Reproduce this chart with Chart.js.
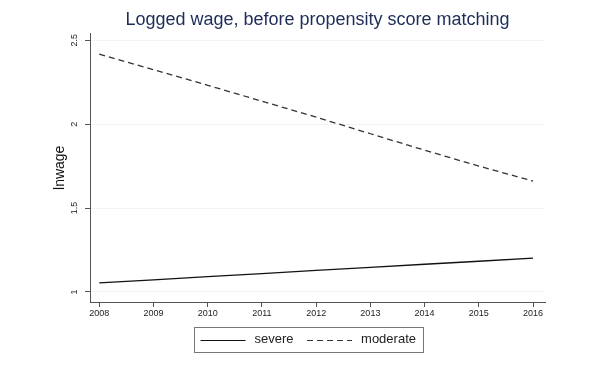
<!DOCTYPE html>
<html>
<head>
<meta charset="utf-8">
<script src="https://cdn.jsdelivr.net/npm/chart.js@4.4.0/dist/chart.umd.min.js"></script>
<style>
    html, body { margin: 0; padding: 0; background: #fff; }
    #wrap { width: 600px; height: 367px; }
</style>
</head>
<body>
<div id="wrap"><canvas id="chart_1"></canvas></div>
<script>
// data
const years = [2008, 2009, 2010, 2011, 2012, 2013, 2014, 2015, 2016];
const severe = [1.054, 1.072, 1.091, 1.109, 1.128, 1.146, 1.165, 1.183, 1.202];
const moderate = [2.417, 2.325, 2.232, 2.137, 2.042, 1.943, 1.845, 1.750, 1.661];
const y_ticks = [1, 1.5, 2, 2.5];
const y_tick_labels = ['1', '1.5', '2', '2.5'];

window.onload = () => {
    const FONT = 'Liberation Sans, Arial, sans-serif';
    const BOX_W = 54;      // room given to each legend sample
    const SAMPLE_W = 45;   // length of drawn sample line
    const to_points = vals => years.map((yr, i) => ({x: yr, y: vals[i]}));

    // stata style: y tick labels turned sideways
    const rotated_y_labels = {
        id: 'rotated_y_labels',
        afterDraw: chart => {
            const ctx = chart.ctx, sc = chart.scales.y;
            ctx.save();
            ctx.fillStyle = '#222';
            ctx.font = '9px ' + FONT;
            ctx.textAlign = 'center';
            ctx.textBaseline = 'middle';
            y_ticks.forEach((v, i) => {
                const py = sc.getPixelForValue(v);
                ctx.save();
                ctx.translate(sc.right - 15, py);
                ctx.rotate(-Math.PI / 2);
                ctx.fillText(y_tick_labels[i], 0, 0);
                ctx.restore();
            });
            ctx.restore();
        }
    };

    // frame round the legend + line samples (solid / dashed)
    const legend_frame = {
        id: 'legend_frame',
        afterDraw: chart => {
            const lg = chart.legend;
            if (!lg || !lg.legendHitBoxes.length) return;
            const boxes = lg.legendHitBoxes;
            const ctx = chart.ctx;
            const off = BOX_W - SAMPLE_W - 2.5;
            ctx.save();
            let mid = 0;
            boxes.forEach((b, i) => {
                const ds = chart.data.datasets[i];
                mid = b.top + b.height / 2;
                const yy = Math.round(mid) + 0.5;
                ctx.strokeStyle = ds.borderColor;
                ctx.lineWidth = 1;
                ctx.setLineDash(ds.borderDash || []);
                ctx.beginPath();
                ctx.moveTo(b.left + off, yy);
                ctx.lineTo(b.left + off + SAMPLE_W, yy);
                ctx.stroke();
            });
            ctx.setLineDash([]);
            const left = boxes[0].left + off - 7;
            const last = boxes[boxes.length - 1];
            const right = last.left + last.width + 7;
            ctx.strokeStyle = '#777';
            ctx.lineWidth = 1;
            ctx.strokeRect(Math.round(left) + 0.5, Math.round(mid - 12.5) + 0.5, Math.round(right - left), 25);
            ctx.restore();
        }
    };

    const ctx = document.getElementById('chart_1').getContext('2d');
    const chart = new Chart(ctx, {
        type: 'line',
        data: {
            datasets: [
                {
                    label: 'severe',
                    data: to_points(severe),
                    borderColor: '#111',
                    backgroundColor: '#111',
                    borderWidth: 1.3,
                    pointRadius: 0,
                    tension: 0
                },
                {
                    label: 'moderate',
                    data: to_points(moderate),
                    borderColor: '#333',
                    backgroundColor: '#333',
                    borderWidth: 1.3,
                    borderDash: [6, 4],
                    pointRadius: 0,
                    tension: 0
                }
            ]
        },
        options: {
            responsive: true,
            maintainAspectRatio: false,
            animation: false,
            // left padding is wide so the legend sits right of centre, as in the original
            layout: { padding: { left: 65, right: 55, top: 0, bottom: 11 } },
            plugins: {
                title: {
                    display: true,
                    text: 'Logged wage, before propensity score matching',
                    color: '#1e2c5a',
                    fullSize: false,
                    font: { family: FONT, size: 18, weight: 'normal' },
                    padding: { top: 9, bottom: 3 }
                },
                legend: {
                    position: 'bottom',
                    labels: {
                        usePointStyle: true,
                        pointStyle: 'line',
                        pointStyleWidth: BOX_W,
                        color: '#222',
                        font: { family: FONT, size: 13 },
                        padding: 7,
                        generateLabels: c => Chart.defaults.plugins.legend.labels.generateLabels(c)
                            .map(it => ({...it, strokeStyle: 'rgba(0,0,0,0)', fillStyle: 'rgba(0,0,0,0)'}))
                    }
                },
                tooltip: { enabled: false }
            },
            scales: {
                x: {
                    type: 'linear',
                    min: 2007.83,
                    max: 2016.22,
                    afterBuildTicks: sc => { sc.ticks = years.map(v => ({value: v})); },
                    afterFit: sc => { sc.height = 24; },
                    grid: { drawOnChartArea: false, tickLength: 5, tickColor: '#555' },
                    border: { color: '#555', width: 1 },
                    ticks: {
                        color: '#222',
                        font: { family: FONT, size: 9 },
                        padding: 1,
                        maxRotation: 0,
                        callback: v => String(v)
                    }
                },
                y: {
                    type: 'linear',
                    min: 0.94,
                    max: 2.54,
                    afterBuildTicks: sc => { sc.ticks = y_ticks.map(v => ({value: v})); },
                    afterFit: sc => { sc.width = 25; },
                    grid: { color: '#f3f3f3', tickLength: 5, tickColor: '#555' },
                    border: { color: '#555', width: 1 },
                    ticks: { display: false },
                    title: {
                        display: true,
                        text: 'lnwage',
                        color: '#111',
                        font: { family: FONT, size: 14 },
                        padding: { top: -13.4, bottom: 0 }
                    }
                }
            }
        },
        plugins: [rotated_y_labels, legend_frame]
    });
}
</script>
</body>
</html>
